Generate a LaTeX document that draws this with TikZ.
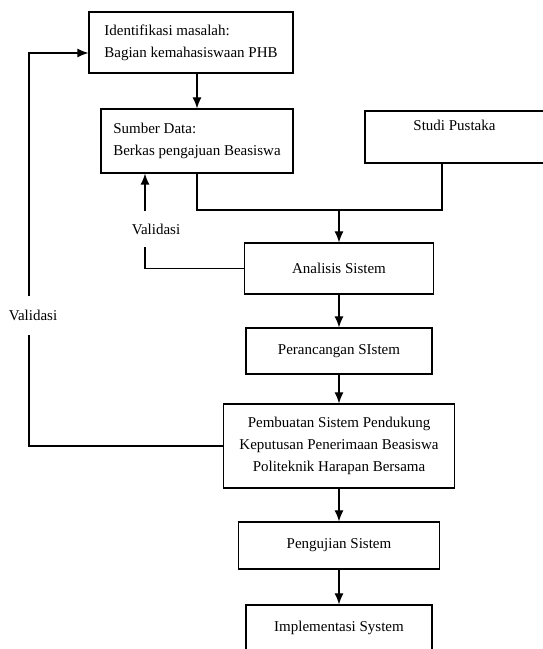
\documentclass[tikz,border=0pt]{standalone}
\usepackage{fontspec}
\setmainfont{Liberation Serif}
\usetikzlibrary{arrows.meta}
\begin{document}
\begin{tikzpicture}[x=1pt,y=1pt,line width=1.2pt,
    every node/.style={font=\fontsize{15}{22}\selectfont},
    panah/.style={-{Latex[length=11pt,width=9pt]}},
    kotak/.style={draw,rectangle,inner sep=0pt,align=center},
    ket/.style={inner sep=0pt,minimum height=34pt}]
    \useasboundingbox (0,0) rectangle (542,649);
    \node[kotak,align=left,minimum width=204pt,minimum height=61pt] (iden) at (191,606.5)
        {Identifikasi masalah:\\Bagian kemahasiswaan PHB};
    \node[kotak,align=left,minimum width=192pt,minimum height=64pt] (sumber) at (197,508)
        {Sumber Data:\\Berkas pengajuan Beasiswa};
    \node[kotak,minimum width=179pt,minimum height=52pt] (studi) at (454.5,512)
        {Studi Pustaka\\[2pt]\mbox{}};
    \node[kotak,minimum width=189pt,minimum height=51pt] (analisis) at (339,380.5) {Analisis Sistem};
    \node[kotak,minimum width=186pt,minimum height=46pt] (rancang) at (339,298) {Perancangan SIstem};
    \node[kotak,minimum width=231pt,minimum height=84pt] (buat) at (339,203)
        {Pembuatan Sistem Pendukung\\Keputusan Penerimaan Beasiswa\\Politeknik Harapan Bersama};
    \node[kotak,minimum width=201pt,minimum height=47pt] (uji) at (339,103.5) {Pengujian Sistem};
    \node[kotak,minimum width=186pt,minimum height=46pt] (impl) at (339,21) {Implementasi System};
    \node[ket] (val1) at (156,420) {Validasi};
    \node[ket,minimum height=37pt] (val2) at (33,333.5) {Validasi};
    \coordinate (gab) at (339,439);
    % alur utama
    \draw[panah] (iden.south -| sumber.north) -- (sumber.north);
    \draw (sumber.south) |- (gab) -| ([xshift=-12.5pt]studi.south);
    \draw[panah] (gab) -- (analisis.north);
    \foreach \a/\b in {analisis/rancang,rancang/buat,buat/uji,uji/impl}
    {
        \draw[panah] (\a.south) -- (\b.north);
    }
    % validasi
    \draw (analisis.west) -| ([xshift=-11pt]val1.south);
    \draw[panah] ([xshift=-11pt]val1.north) -- ([xshift=-11pt]val1.north |- sumber.south);
    \draw (buat.west) -| ([xshift=-4pt]val2.south);
    \draw[panah] ([xshift=-4pt]val2.north) |- ([yshift=-10.5pt]iden.west);
\end{tikzpicture}
\end{document}
